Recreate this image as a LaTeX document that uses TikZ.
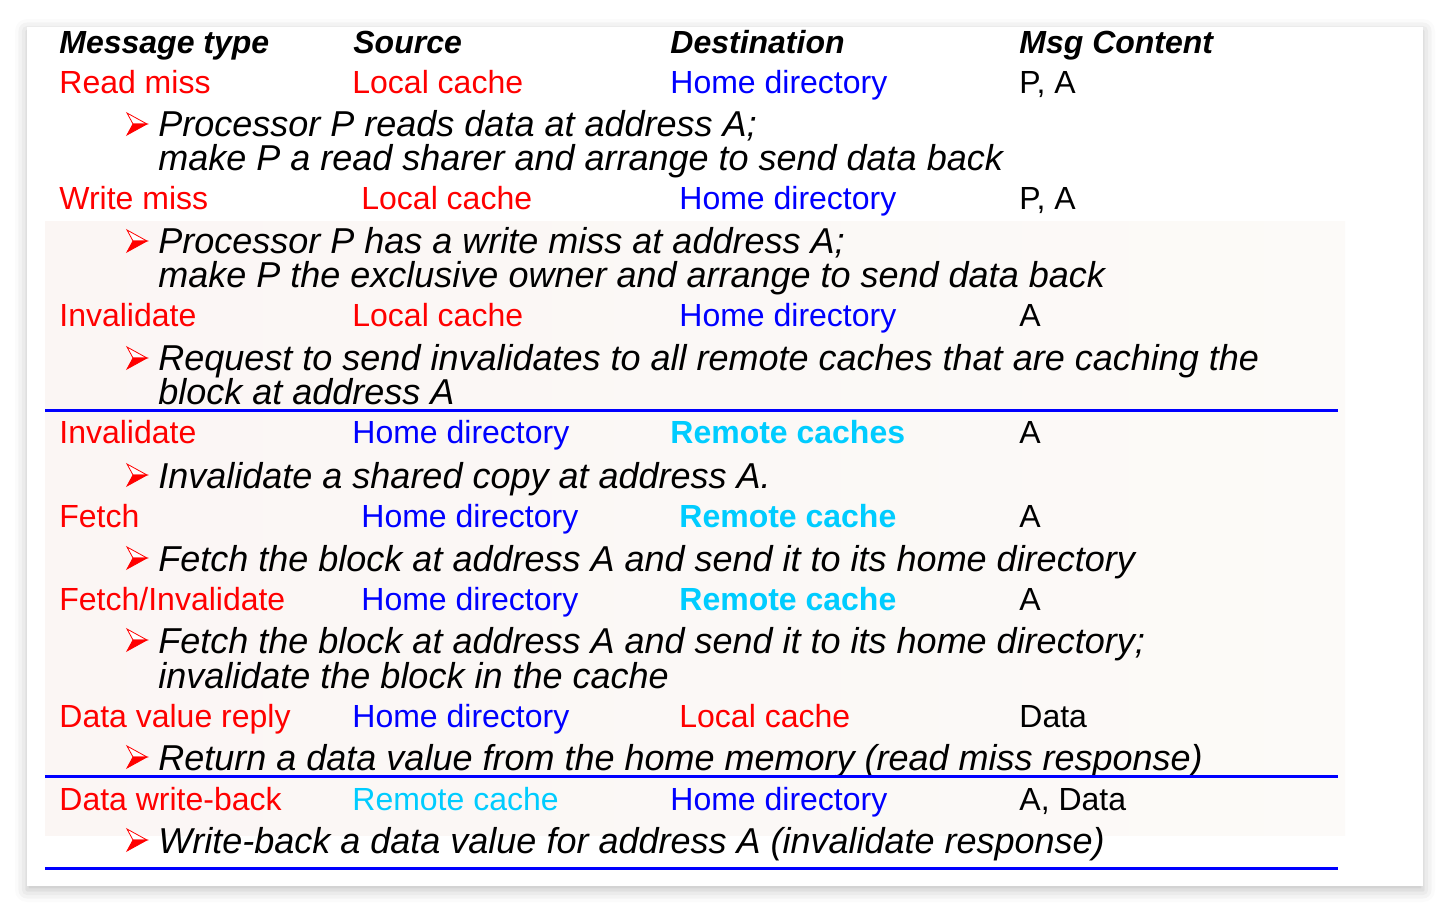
\documentclass[tikz,border=0pt]{standalone}
\usepackage{fontspec}
\setmainfont{Liberation Sans}
\usetikzlibrary{shadows.blur}
\definecolor{msgred}{RGB}{255,0,0}
\definecolor{msgblue}{RGB}{0,0,255}
\definecolor{msgcyan}{RGB}{0,204,255}
\definecolor{stoneA}{RGB}{247,236,232}
\definecolor{stoneB}{RGB}{249,245,240}

\begin{document}
\begin{tikzpicture}[x=0.5pt,y=-0.5pt,
   txt/.style={anchor=base west, inner sep=0pt, font=\fontsize{16}{19}\selectfont},
   head/.style={txt, font=\fontsize{16}{19}\selectfont\bfseries\itshape},
   kind/.style={txt, text=msgred},
   home/.style={txt, text=msgblue},
   remote/.style={txt, text=msgcyan, font=\fontsize{16}{19}\selectfont\bfseries},
   note/.style={txt, font=\fontsize{18}{20}\selectfont\itshape},
   rule/.style={msgblue, line width=1.5pt}]
   \useasboundingbox (0,0) rectangle (1450,914);

   % card and faint photo
   \fill[white, blur shadow={shadow xshift=0pt, shadow yshift=-2pt, shadow blur radius=6pt, shadow opacity=25}]
    (27,27) rectangle (1423,886);
   \shade[left color=stoneA, right color=stoneB, opacity=0.45] (45,222) rectangle (1345,835);

   % header
   \node(Hkind)[head] at (59,54) {Message type};
   \node(Hsrc)[head] at (353,54) {Source};
   \node(Hdst)[head] at (670,54) {Destination};
   \node(Hmsg)[head] at (1019,54) {Msg Content};

   % read miss
   \node(K1)[kind] at (59,94) {Read miss};
   \node(S1)[kind] at (352,94) {Local cache};
   \node(D1)[home] at (670,94) {Home directory};
   \node(C1)[txt] at (1019,94) {P, A};
   \node(N1a)[note] at (158,137) {Processor P reads data at address A;};
   \node(N1b)[note] at (158,171) {make P a read sharer and arrange to send data back};

   % write miss
   \node(K2)[kind] at (59,210) {Write miss};
   \node(S2)[kind] at (361,210) {Local cache};
   \node(D2)[home] at (679,210) {Home directory};
   \node(C2)[txt] at (1019,210) {P, A};
   \node(N2a)[note] at (158,254) {Processor P has a write miss at address A;};
   \node(N2b)[note] at (158,288) {make P the exclusive owner and arrange to send data back};

   % invalidate (local)
   \node(K3)[kind] at (59,327) {Invalidate};
   \node(S3)[kind] at (352,327) {Local cache};
   \node(D3)[home] at (679,327) {Home directory};
   \node(C3)[txt] at (1019,327) {A};
   \node(N3a)[note] at (158,371) {Request to send invalidates to all remote caches that are caching the};
   \node(N3b)[note] at (158,405) {block at address A};

   \draw[rule] (45,410) -- (1338,410);

   % invalidate (home)
   \node(K4)[kind] at (59,444) {Invalidate};
   \node(S4)[home] at (352,444) {Home directory};
   \node(D4)[remote] at (670,444) {Remote caches};
   \node(C4)[txt] at (1019,444) {A};
   \node(N4)[note] at (158,488) {Invalidate a shared copy at address A.};

   % fetch
   \node(K5)[kind] at (59,527) {Fetch};
   \node(S5)[home] at (361,527) {Home directory};
   \node(D5)[remote] at (679,527) {Remote cache};
   \node(C5)[txt] at (1019,527) {A};
   \node(N5)[note] at (158,571) {Fetch the block at address A and send it to its home directory};

   % fetch/invalidate
   \node(K6)[kind] at (59,610) {Fetch/Invalidate};
   \node(S6)[home] at (361,610) {Home directory};
   \node(D6)[remote] at (679,610) {Remote cache};
   \node(C6)[txt] at (1019,610) {A};
   \node(N6a)[note] at (158,653) {Fetch the block at address A and send it to its home directory;};
   \node(N6b)[note] at (158,688) {invalidate the block in the cache};

   % data value reply
   \node(K7)[kind] at (59,727) {Data value reply};
   \node(S7)[home] at (352,727) {Home directory};
   \node(D7)[kind] at (679,727) {Local cache};
   \node(C7)[txt] at (1019,727) {Data};
   \node(N7)[note] at (158,770) {Return a data value from the home memory (read miss response)};

   \draw[rule] (45,776) -- (1338,776);

   % data write-back
   \node(K8)[kind] at (59,810) {Data write-back};
   \node(S8)[txt, text=msgcyan] at (352,810) {Remote cache};
   \node(D8)[home] at (670,810) {Home directory};
   \node(C8)[txt] at (1019,810) {A, Data};
   \node(N8)[note] at (158,853) {Write-back a data value for address A (invalidate response)};

   \draw[rule] (45,868) -- (1338,868);

   % bullet arrowheads
   \foreach \y in {124,241,358,475,558,640,757,840} {
     \filldraw[draw=msgred, fill=white, line width=0.4pt] (127,\y-11) -- (147,\y) -- (133,\y) -- cycle;
     \filldraw[draw=msgred, fill=msgred, line width=0.4pt] (133,\y) -- (147,\y) -- (127,\y+11) -- cycle;
   }
\end{tikzpicture}
\end{document}
